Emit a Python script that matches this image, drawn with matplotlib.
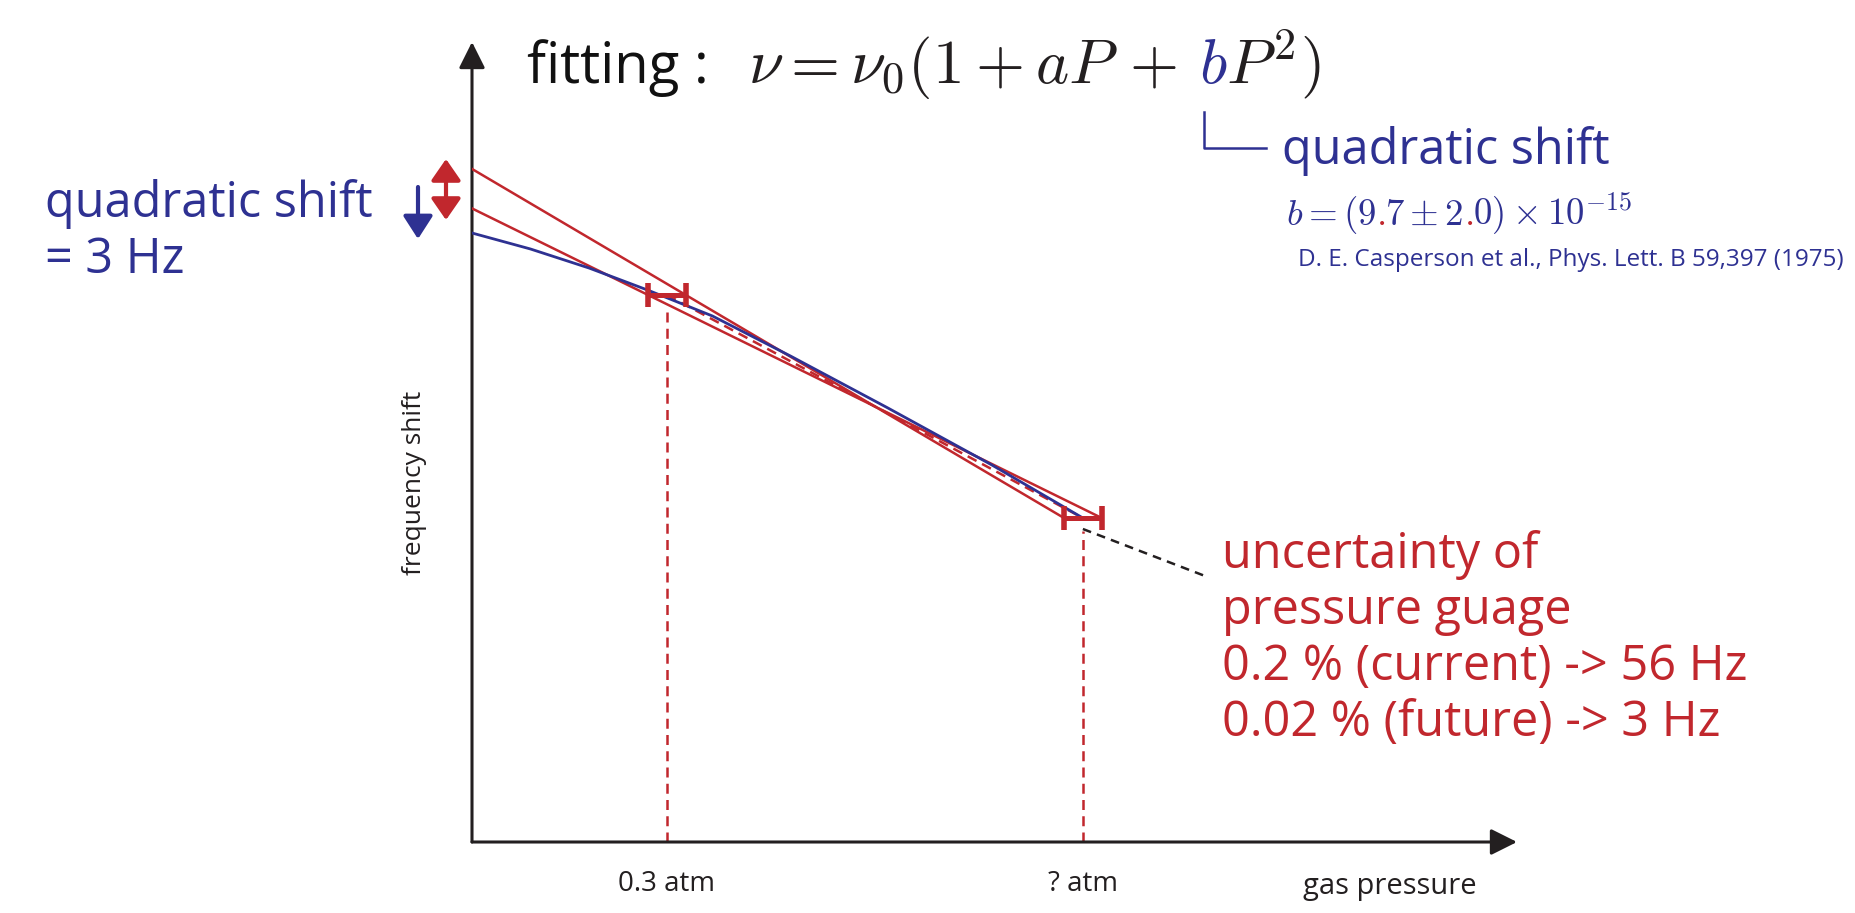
import numpy as np
import matplotlib
matplotlib.use("Agg")
import matplotlib.pyplot as plt
from matplotlib.lines import Line2D
from matplotlib.transforms import Bbox

# schematic data: pressure in atm, frequency shift in arbitrary units
pressure_atm = [0.30, 0.94]
pressure_labels = ["0.3 atm", "? atm"]
shift_meas = [5.47, 3.24]
pressure_err = [0.029, 0.029]

# quadratic fit curve
fit_pressure = [0.0, 0.09, 0.18, 0.27, 0.37, 0.49, 0.64, 0.80, 0.94]
fit_shift = [6.09, 5.93, 5.74, 5.52, 5.26, 4.86, 4.34, 3.77, 3.24]

note_lines = ["uncertainty of", "pressure guage",
              "0.2 % (current) -> 56 Hz", "0.02 % (future) -> 3 Hz"]
left_lines = ["quadratic shift", "= 3 Hz"]
fit_formula = r"$\nu=\nu_0(1+aP\,+\,bP^2)$"
fit_upto_b = r"$\nu=\nu_0(1+aP\,+\,b$"
b_parts = [(r"$b=(9$", "b"), (r"$.$", "r"), (r"$7\pm2$", "b"),
           (r"$.$", "r"), (r"$0)\times10^{-15}$", "b")]
citation = "D. E. Casperson et al., Phys. Lett. B 59,397 (1975)"

RED = "#C1272D"
BLUE = "#2E3192"
BLACK = "#231F20"
COLS = {"k": BLACK, "b": BLUE, "r": RED}
FONT = "Open Sans"

W, H = 1855, 913
fig = plt.figure(figsize=(W / 100, H / 100), dpi=100)


def fx(px):
    return px / W


def fy(py):
    return 1 - py / H


ax = fig.add_axes([fx(472), fy(842), (1517 - 472) / W, (842 - 42) / H])
ax.set_xlim(0, 1.608)
ax.set_ylim(0, 8.0)
for s in ax.spines.values():
    s.set_visible(False)

# axes drawn as arrows
arrow_kw = dict(arrowstyle="-|>,head_length=0.8,head_width=0.4", color=BLACK,
                lw=2.2, shrinkA=0, shrinkB=0, mutation_scale=20)
ax.annotate("", xy=(1, 0), xytext=(0, 0), xycoords="axes fraction",
            arrowprops=arrow_kw, annotation_clip=False)
ax.annotate("", xy=(0, 1), xytext=(0, 0), xycoords="axes fraction",
            arrowprops=arrow_kw, annotation_clip=False)

p1, p2 = pressure_atm
y1, y2 = shift_meas
d1, d2 = pressure_err

# linear fits through the extreme ends of the pressure error bars
for xa, xb in [(p1 + d1, p2 - d2), (p1 - d1, p2 + d2)]:
    slope = (y2 - y1) / (xb - xa)
    ax.plot([0, xb], [y1 - slope * xa, y2], color=RED, lw=1.8, zorder=3)

# straight line between the two points
ax.plot(pressure_atm, shift_meas, color=RED, lw=1.8, ls=(0, (4, 2.5)), zorder=2)

# quadratic fit
ax.plot(fit_pressure, fit_shift, color=BLUE, lw=2, zorder=3,
        solid_joinstyle="round")

ax.errorbar(pressure_atm, shift_meas, xerr=pressure_err, fmt="none",
            ecolor=RED, elinewidth=3.6, capsize=8.5, capthick=4, zorder=4)
ax.vlines(pressure_atm, 0, np.array(shift_meas) - 0.13, colors=RED, lw=1.8,
          linestyles=(0, (4, 2.5)), zorder=2)

# leader line to the note
ax.plot([p2, 1.132], [y2 - 0.11, 2.65], color=BLACK, lw=1.8, ls=(0, (3.5, 2.5)))

ax.set_yticks([])
ax.set_xticks(pressure_atm, pressure_labels, fontsize=20, fontfamily=FONT)
ax.tick_params(axis="x", length=0, pad=20, colors=BLACK)
ax.set_xlabel("gas pressure", fontsize=21, fontfamily=FONT, color=BLACK)
ax.xaxis.set_label_coords(1.412 / 1.608, -0.037)
ax.set_ylabel("frequency shift", fontsize=19, fontfamily=FONT, color=BLACK)
ax.yaxis.set_label_coords(-0.0555, 0.449)
ax.yaxis.label.set_verticalalignment("center")


def ftext(px, py, s, **kw):
    return fig.text(fx(px), fy(py), s, va="baseline", **kw)


for i, line in enumerate(left_lines):
    ftext(45, 217 + 56 * i, line, fontsize=35, fontfamily=FONT, color=BLUE)

for i, line in enumerate(note_lines):
    ftext(1222, 568 + 56 * i, line, fontsize=35, fontfamily=FONT, color=RED)

ftext(1282, 164, "quadratic shift", fontsize=35, fontfamily=FONT, color=BLUE)
ftext(1298, 266, citation, fontsize=17.5, fontfamily=FONT, color=BLUE)
ftext(527, 83, "fitting :", fontsize=40.5, fontfamily=FONT, color="#111111")

renderer = fig.canvas.get_renderer()


def text_width(s, size):
    t = fig.text(0, 0, s, fontsize=size, math_fontfamily="cm")
    w = t.get_window_extent(renderer=renderer).width
    t.remove()
    return w


# fit formula, with the b coefficient in blue (same layout, clipped copies)
x0, fsize = 748, 45.5
xb1 = x0 + text_width(fit_upto_b, fsize)
xb0 = xb1 - text_width(r"$b$", fsize)
for lo, hi, col in [(0, xb0, BLACK), (xb0, xb1, BLUE), (xb1, W, BLACK)]:
    t = ftext(x0, 83, fit_formula, fontsize=fsize, color=col, math_fontfamily="cm")
    t.set_clip_box(Bbox.from_extents(lo, 0, hi, H))
    t.set_clip_on(True)

# b value with red decimal points
px = 1286
for s, c in b_parts:
    t = ftext(px, 225, s, fontsize=26.5, color=COLS[c], math_fontfamily="cm")
    px = t.get_window_extent(renderer=renderer).x1

# bracket from the b coefficient
fig.add_artist(Line2D([fx(1204), fx(1204), fx(1266)], [fy(112), fy(148), fy(148)],
                      transform=fig.transFigure, color=BLUE, lw=1.8))

# shift arrows left of the axis
ax.annotate("", xy=(fx(418), fy(239)), xytext=(fx(418), fy(187)),
            xycoords="figure fraction", annotation_clip=False,
            arrowprops=dict(arrowstyle="-|>,head_length=0.7,head_width=0.45",
                            color=BLUE, lw=3, shrinkA=0, shrinkB=0,
                            mutation_scale=20))
ax.annotate("", xy=(fx(446), fy(220)), xytext=(fx(446), fy(159)),
            xycoords="figure fraction", annotation_clip=False,
            arrowprops=dict(arrowstyle="<|-|>,head_length=0.65,head_width=0.45",
                            color=RED, lw=3, shrinkA=0, shrinkB=0,
                            mutation_scale=20))

fig.savefig("out.png", dpi=100)
